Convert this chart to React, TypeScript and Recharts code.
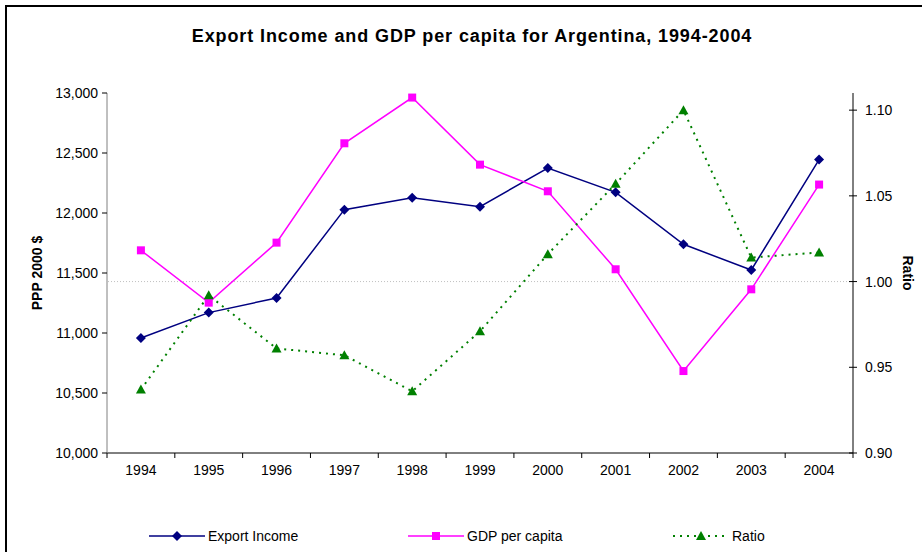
import { Legend, Line, LineChart, ReferenceLine, XAxis, YAxis } from "recharts";

const years = ["1994", "1995", "1996", "1997", "1998", "1999", "2000", "2001", "2002", "2003", "2004"];
const exportIncome = [10958, 11170, 11292, 12028, 12128, 12053, 12375, 12172, 11739, 11525, 12445];
const gdpPerCapita = [11689, 11253, 11753, 12581, 12962, 12403, 12181, 11531, 10683, 11364, 12237];
const ratio = [0.937, 0.992, 0.961, 0.957, 0.936, 0.971, 1.016, 1.057, 1.1, 1.014, 1.017];
const leftTicks = [10000, 10500, 11000, 11500, 12000, 12500, 13000];
const rightTicks = [0.9, 0.95, 1.0, 1.05, 1.1];

const data = years.map((year, i) => ({
  year,
  exportIncome: exportIncome[i],
  gdp: gdpPerCapita[i],
  ratio: ratio[i],
}));

const FONT = '"Liberation Sans", Arial, sans-serif';
const NAVY = "#000080";
const PINK = "#FF00FF";
const GREEN = "#008000";

const W = 922;
const H = 552;
const PLOT_LEFT = 107;
const PLOT_RIGHT = 853;
const HALF_STEP = (PLOT_RIGHT - PLOT_LEFT) / years.length / 2;

const Diamond = (p: any) => {
  const { cx, cy } = p;
  if (cx == null || cy == null) return null;
  return <polygon points={`${cx},${cy - 5} ${cx + 5},${cy} ${cx},${cy + 5} ${cx - 5},${cy}`} fill={NAVY} />;
};

const Square = (p: any) => {
  const { cx, cy } = p;
  if (cx == null || cy == null) return null;
  return <rect x={cx - 4} y={cy - 4} width={8} height={8} fill={PINK} />;
};

const Triangle = (p: any) => {
  const { cx, cy } = p;
  if (cx == null || cy == null) return null;
  return <polygon points={`${cx},${cy - 5} ${cx + 5},${cy + 4} ${cx - 5},${cy + 4}`} fill={GREEN} />;
};

const YearTick = (p: any) => {
  const { x, y, payload, index } = p;
  const axisY = y - 8;
  return (
    <g>
      <line x1={x - HALF_STEP} x2={x - HALF_STEP} y1={axisY} y2={axisY + 5} stroke="#000" />
      {index === years.length - 1 && (
        <line x1={x + HALF_STEP} x2={x + HALF_STEP} y1={axisY} y2={axisY + 5} stroke="#000" />
      )}
      <text x={x} y={axisY + 22} textAnchor="middle" fill="#000" fontSize={14} fontFamily={FONT}>
        {payload.value}
      </text>
    </g>
  );
};

// right axis ticks cross the axis line, as in the original
const RatioTick = (p: any) => {
  const { y, payload } = p;
  return (
    <g>
      <line x1={PLOT_RIGHT - 4} x2={PLOT_RIGHT + 4} y1={y} y2={y} stroke="#000" />
      <text x={PLOT_RIGHT + 12} y={y} dy={5} textAnchor="start" fill="#000" fontSize={14} fontFamily={FONT}>
        {Number(payload.value).toFixed(2)}
      </text>
    </g>
  );
};

const legendItems = [
  { name: "Export Income", color: NAVY, left: 149, dash: undefined, marker: "diamond" },
  { name: "GDP per capita", color: PINK, left: 408, dash: undefined, marker: "square" },
  { name: "Ratio", color: GREEN, left: 673, dash: "2 5", marker: "triangle" },
];

const LegendContent = () => (
  <div style={{ position: "relative", height: 20, fontFamily: FONT, fontSize: 14 }}>
    {legendItems.map((item) => (
      <div
        key={item.name}
        style={{ position: "absolute", left: item.left, top: 0, display: "flex", alignItems: "center" }}
      >
        <svg width={56} height={14}>
          <line
            x1={0}
            x2={56}
            y1={7}
            y2={7}
            stroke={item.color}
            strokeWidth={item.dash ? 2 : 1.5}
            strokeDasharray={item.dash}
          />
          {item.marker === "diamond" && <Diamond cx={28} cy={7} />}
          {item.marker === "square" && <Square cx={28} cy={7} />}
          {item.marker === "triangle" && <Triangle cx={28} cy={7} />}
        </svg>
        <span style={{ marginLeft: 3, color: "#000" }}>{item.name}</span>
      </div>
    ))}
  </div>
);

export default function App() {
  return (
    <div style={{ position: "absolute", left: 0, top: 0, width: W, height: H, background: "#fff", fontFamily: FONT }}>
      <div
        style={{
          position: "absolute",
          left: 5,
          top: 5,
          width: W - 5,
          height: H - 5,
          borderLeft: "2px solid #000",
          borderTop: "2px solid #000",
          boxSizing: "border-box",
        }}
      />
      <div
        style={{
          position: "absolute",
          left: 0,
          top: 26,
          width: 944,
          textAlign: "center",
          fontSize: 18,
          letterSpacing: 0.9,
          fontWeight: "bold",
          color: "#000",
        }}
      >
        Export Income and GDP per capita for Argentina, 1994-2004
      </div>
      <div style={{ position: "absolute", left: 0, top: 0 }}>
        <LineChart width={W} height={H} data={data} margin={{ top: 93, right: 0, bottom: 4, left: 0 }}>
          <XAxis
            dataKey="year"
            padding={{ left: HALF_STEP, right: HALF_STEP }}
            height={75}
            axisLine={{ stroke: "#000" }}
            tickLine={false}
            tick={<YearTick />}
            tickSize={0}
            tickMargin={8}
            interval={0}
          />
          <YAxis
            yAxisId="left"
            width={107}
            domain={[10000, 13000]}
            ticks={leftTicks}
            tickFormatter={(v: number) => v.toLocaleString("en-US")}
            axisLine={{ stroke: "#808080" }}
            tickLine={{ stroke: "#000" }}
            tickSize={5}
            tickMargin={4}
            tick={{ fill: "#000", fontSize: 14, fontFamily: FONT }}
            label={{
              value: "PPP 2000 $",
              angle: -90,
              position: "insideLeft",
              offset: 37,
              style: { textAnchor: "middle", fontWeight: "bold", fontSize: 14, fill: "#000", fontFamily: FONT },
            }}
          />
          <YAxis
            yAxisId="right"
            orientation="right"
            width={69}
            domain={[0.9, 1.11]}
            ticks={rightTicks}
            axisLine={{ stroke: "#000" }}
            tickLine={false}
            tick={<RatioTick />}
            label={{
              value: "Ratio",
              angle: 90,
              position: "insideRight",
              offset: 14,
              style: { textAnchor: "middle", fontWeight: "bold", fontSize: 14, fill: "#000", fontFamily: FONT },
            }}
          />
          <ReferenceLine yAxisId="right" y={1} stroke="#c0c0c0" strokeDasharray="1 2" />
          <Line
            yAxisId="left"
            type="linear"
            dataKey="exportIncome"
            name="Export Income"
            stroke={NAVY}
            strokeWidth={1.5}
            dot={<Diamond />}
            activeDot={false}
            isAnimationActive={false}
          />
          <Line
            yAxisId="left"
            type="linear"
            dataKey="gdp"
            name="GDP per capita"
            stroke={PINK}
            strokeWidth={1.5}
            dot={<Square />}
            activeDot={false}
            isAnimationActive={false}
          />
          <Line
            yAxisId="right"
            type="linear"
            dataKey="ratio"
            name="Ratio"
            stroke={GREEN}
            strokeWidth={2}
            strokeDasharray="2 5"
            dot={<Triangle />}
            activeDot={false}
            isAnimationActive={false}
          />
          <Legend
            verticalAlign="bottom"
            height={20}
            wrapperStyle={{ left: 0, width: W }}
            content={<LegendContent />}
          />
        </LineChart>
      </div>
    </div>
  );
}
